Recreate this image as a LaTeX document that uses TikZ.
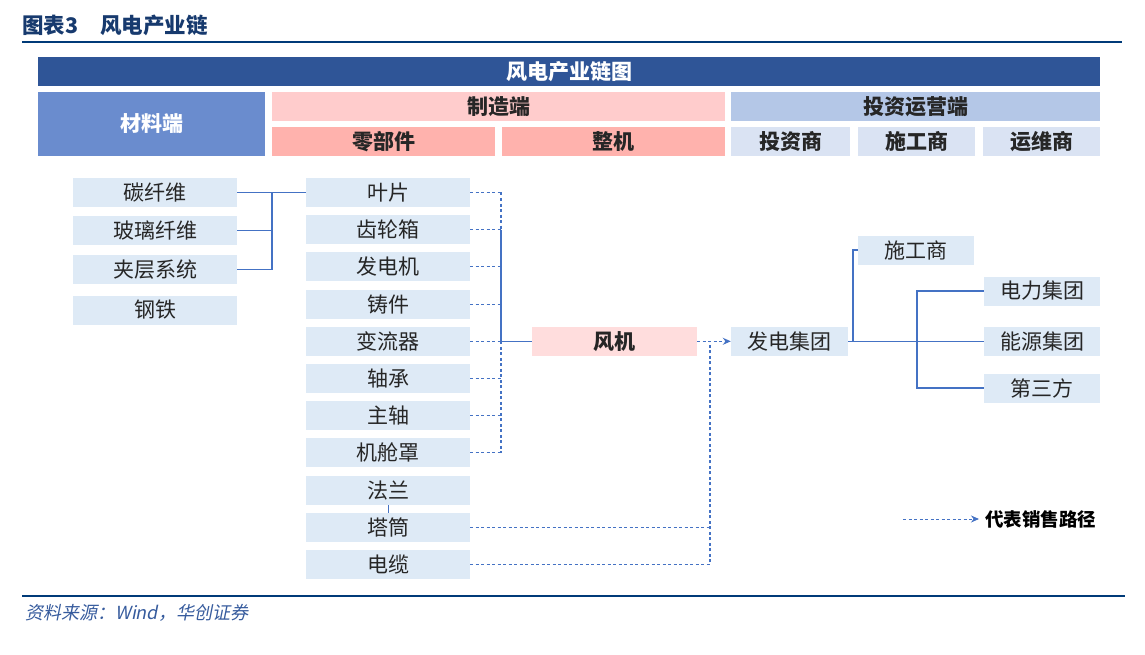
\documentclass[tikz,border=0pt]{standalone}
\usepackage{fontspec}
\usetikzlibrary{arrows.meta}
\newfontfamily\cjk{Noto Sans CJK SC}
\newfontfamily\cjkit[FakeSlant=0.2]{Noto Sans CJK SC}
\definecolor{hdr}{HTML}{2F5597}
\definecolor{mat}{HTML}{6A8CCE}
\definecolor{mfg}{HTML}{FFCCCC}
\definecolor{mfgsub}{HTML}{FFB2AD}
\definecolor{inv}{HTML}{B4C7E7}
\definecolor{invsub}{HTML}{DAE3F3}
\definecolor{item}{HTML}{DEEAF6}
\definecolor{fanc}{HTML}{FFDDDD}
\definecolor{ln}{HTML}{4472C4}
\definecolor{ttl}{HTML}{173A6E}
\definecolor{rule}{HTML}{003A78}
\definecolor{txt}{HTML}{262626}
\tikzset{
  cell/.style={rectangle, inner sep=0pt, minimum height=29pt, text=txt, font=\cjk\fontsize{21}{21}\selectfont},
  hcell/.style={cell, font=\cjk\bfseries\fontsize{21}{21}\selectfont},
  itembox/.style={cell, fill=item, minimum width=164pt},
  conn/.style={draw=ln, line width=1.3pt},
  dconn/.style={draw=ln, line width=1.1pt, dash pattern=on 3pt off 2.5pt},
  tip/.style={-{Stealth[length=8pt,width=7pt]}}
}
\begin{document}
\begin{tikzpicture}[x=1pt,y=-1pt]
\useasboundingbox (0,0) rectangle (1145,655);
% title
\node[anchor=west, text=ttl, font=\cjk\bfseries\fontsize{21.5}{21.5}\selectfont, inner sep=0pt] (title) at (22,25) {图表3\hspace{22pt}风电产业链};
\draw[rule, line width=2pt] (22,42) -- (1122,42);
% header
\node[hcell, fill=hdr, text=white, minimum width=1062pt] (head) at (569,71.5) {风电产业链图};
\node[hcell, fill=mat, text=white, minimum width=227pt, minimum height=64pt] (matend) at (151.5,124) {材料端};
\node[hcell, fill=mfg, minimum width=453pt] (mfgend) at (498.5,106.5) {制造端};
\node[hcell, fill=mfgsub, minimum width=223pt] (parts) at (383.5,141.5) {零部件};
\node[hcell, fill=mfgsub, minimum width=223pt] (whole) at (613.5,141.5) {整机};
\node[hcell, fill=inv, minimum width=369pt] (invend) at (915.5,106.5) {投资运营端};
\node[hcell, fill=invsub, minimum width=119pt] (investor) at (790.5,141.5) {投资商};
\node[hcell, fill=invsub, minimum width=117pt] (builderh) at (916.5,141.5) {施工商};
\node[hcell, fill=invsub, minimum width=117pt] (maint) at (1041.5,141.5) {运维商};
% materials
\node[itembox] (m1) at (155,192.5) {碳纤维};
\node[itembox] (m2) at (155,230.5) {玻璃纤维};
\node[itembox] (m3) at (155,269.5) {夹层系统};
\node[itembox] (m4) at (155,310) {钢铁};
% components
\node[itembox] (c0) at (388,192.5) {叶片};
\node[itembox] (c1) at (388,229.7) {齿轮箱};
\node[itembox] (c2) at (388,266.9) {发电机};
\node[itembox] (c3) at (388,304.1) {铸件};
\node[itembox] (c4) at (388,341.3) {变流器};
\node[itembox] (c5) at (388,378.5) {轴承};
\node[itembox] (c6) at (388,415.7) {主轴};
\node[itembox] (c7) at (388,452.9) {机舱罩};
\node[itembox] (c8) at (388,490.1) {法兰};
\node[itembox] (c9) at (388,527.3) {塔筒};
\node[itembox] (c10) at (388,564.5) {电缆};
% turbine
\node[hcell, fill=fanc, minimum width=165pt] (fan) at (614.5,341.3) {风机};
% operators
\node[cell, fill=item, minimum width=117pt] (gen) at (789.5,341.3) {发电集团};
\node[cell, fill=item, minimum width=116pt] (builder) at (916,250) {施工商};
\node[cell, fill=item, minimum width=116pt] (power) at (1042,291) {电力集团};
\node[cell, fill=item, minimum width=116pt] (energy) at (1042,341.3) {能源集团};
\node[cell, fill=item, minimum width=116pt] (third) at (1042,388) {第三方};
% coordinates
\coordinate (mj) at (272,192.5);
\coordinate (bus0) at (501,192.5);
\coordinate (bus1) at (501,229.7);
\coordinate (bus4) at (501,341.3);
\coordinate (bus7) at (501,452.9);
\coordinate (vj) at (710,341.3);
\coordinate (gj) at (853,341.3);
\coordinate (pj) at (917,341.3);
% material connectors
\draw[conn] (m1.east) -- (c0.west);
\draw[conn] (m2.east) -| (mj);
\draw[conn] (m3.east) -| (mj);
% component connectors
\foreach \i in {0,...,7} {\draw[dconn] (c\i.east) -- (c\i.east -| bus0);}
\draw[dconn] (bus0) -- (bus1);
\draw[conn] (bus1) -- (bus4);
\draw[dconn] (bus4) -- (bus7);
\draw[conn] (bus4) -- (fan.west);
\draw[conn, line width=1pt] (c8.south) -- (c9.north);
% to generation group
\draw[dconn, tip] (fan.east) -- (gen.west);
\draw[dconn] (c9.east) -- (c9.east -| vj);
\draw[dconn] (c10.east) -| (vj);
% right side
\draw[conn] (gen.east) -- (energy.west);
\draw[conn] (gj) |- (builder.west);
\draw[conn] (power.west) -| (pj) |- (third.west);
% legend
\node[anchor=west, inner sep=0pt, font=\cjk\bfseries\fontsize{18.5}{18.5}\selectfont, text=black] (legend) at (985,519) {代表销售路径};
\coordinate (lg) at (903,519);
\draw[dconn, line width=1pt, tip] (lg) -- ([xshift=-6pt]legend.west);
% footer
\draw[rule, line width=2.5pt] (22,596) -- (1125,596);
\node[anchor=west, inner sep=0pt, text=ln!80!black, font=\cjkit\fontsize{18}{18}\selectfont] (src) at (25,613) {资料来源：Wind，华创证券};
\end{tikzpicture}
\end{document}
